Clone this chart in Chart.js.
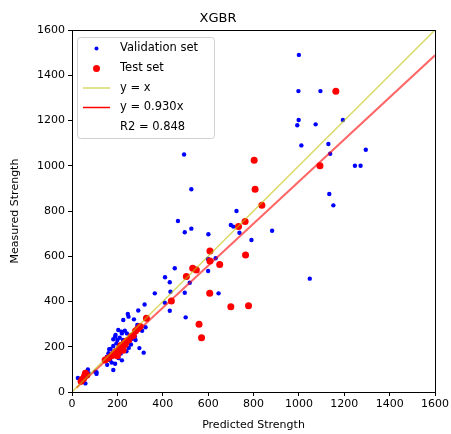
<!DOCTYPE html>
<html>
<head>
<meta charset="utf-8">
<script src="https://cdn.jsdelivr.net/npm/chart.js@4.4.0/dist/chart.umd.min.js"></script>
<style>
  html, body { margin: 0; padding: 0; background: #fff; }
  #wrap { width: 451px; height: 434px; }
</style>
</head>
<body>
<div id="wrap"><canvas id="chartXgbr" width="451" height="434"></canvas></div>
<script>

const validPred = [1000, 998, 1095, 999, 993, 1074, 1194, 1011, 1130, 1295, 1138, 1247, 1272, 1134, 1152,
    882, 791, 494, 526, 467, 497, 526, 601, 725, 700, 711, 738, 599, 633, 453, 600, 410, 431, 365, 434,
    497, 519, 646, 409, 431, 501, 1048, 320, 292, 273, 246, 249, 226, 288, 324, 309, 204, 218, 192, 242,
    233, 277, 280, 182, 196, 297, 182, 316, 182, 154, 161, 168, 190, 220, 103, 73, 26, 70, 108, 108, 59,
    164, 164, 200, 210, 230, 245, 260, 170, 185, 200, 215, 225, 250, 265, 205, 190, 220, 240, 175, 155];
const validMeas = [1490, 1330, 1330, 1202, 1179, 1183, 1202, 1090, 1096, 1071, 1053, 1000, 1000, 875, 825,
    713, 672, 1050, 896, 756, 706, 722, 697, 800, 738, 731, 704, 588, 591, 547, 535, 507, 485, 436, 443,
    439, 483, 436, 395, 359, 330, 501, 387, 360, 321, 345, 333, 318, 296, 286, 271, 274, 267, 252, 259,
    271, 245, 230, 233, 215, 194, 203, 174, 97, 156, 171, 141, 245, 259, 90, 83, 62, 100, 87, 80, 38,
    141, 189, 230, 240, 200, 220, 210, 190, 160, 185, 170, 230, 195, 235, 150, 125, 140, 180, 130, 120];

const testPred = [1163, 1093, 803, 807, 837, 763, 734, 608, 608, 651, 765, 532, 548, 504, 607, 438, 560,
    571, 700, 778, 328, 146, 195, 205, 210, 220, 230, 240, 250, 260, 270, 225, 200, 185, 215, 235, 280,
    175, 160, 290, 300, 59, 51, 45, 55, 65, 40];
const testMeas = [1329, 1000, 1024, 896, 825, 754, 731, 623, 579, 564, 605, 547, 539, 510, 436, 402, 299,
    240, 377, 381, 326, 141, 180, 175, 195, 200, 215, 225, 230, 245, 250, 185, 160, 170, 205, 210, 270,
    160, 150, 280, 290, 83, 60, 55, 70, 75, 48];

const eixoTicks = [0, 200, 400, 600, 800, 1000, 1200, 1400, 1600];
const slope = 0.930;
const r2 = 0.848;
const linhaIdentX = [0, 1600];
const linhaAjusteX = [20, 1600];

const fonte = 'DejaVu Sans';

function toPoints(xs, ys) {
    return xs.map((x, i) => ({ x: x, y: ys[i] }));
}

// Moldura completa (estilo matplotlib)
const molduraPlugin = {
    id: 'moldura',
    afterDraw(chart) {
        const { ctx, chartArea: a } = chart;
        ctx.save();
        ctx.strokeStyle = '#000';
        ctx.lineWidth = 1;
        ctx.strokeRect(Math.round(a.left) + 0.5, Math.round(a.top) + 0.5,
            Math.round(a.right - a.left), Math.round(a.bottom - a.top));
        ctx.restore();
    }
};

// Legenda dentro da área do gráfico
const legendaPlugin = {
    id: 'legendaInterna',
    afterDraw(chart) {
        const ctx = chart.ctx;
        const x0 = 77, y0 = 37, w = 137, h = 101;
        ctx.save();
        ctx.fillStyle = 'rgba(255,255,255,0.8)';
        ctx.strokeStyle = '#d0d0d0';
        ctx.lineWidth = 1;
        ctx.beginPath();
        ctx.roundRect(x0 + 0.5, y0 + 0.5, w, h, 3);
        ctx.fill();
        ctx.stroke();

        const linhas = [
            { tipo: 'ponto', cor: '#0000ff', r: 2, texto: 'Validation set' },
            { tipo: 'ponto', cor: '#ff0000', r: 3.5, texto: 'Test set' },
            { tipo: 'linha', cor: '#d9d966', texto: 'y = x' },
            { tipo: 'linha', cor: '#ff0000', texto: 'y = ' + slope.toFixed(3) + 'x' },
            { tipo: 'nada', texto: 'R2 = ' + r2.toFixed(3) }
        ];
        const ys = [48.5, 68.5, 88, 107.5, 127];
        ctx.font = '11.5px "' + fonte + '"';
        ctx.textBaseline = 'middle';
        linhas.forEach((l, i) => {
            const y = ys[i];
            if (l.tipo === 'ponto') {
                ctx.fillStyle = l.cor;
                ctx.beginPath();
                ctx.arc(96.5, y, l.r, 0, Math.PI * 2);
                ctx.fill();
            } else if (l.tipo === 'linha') {
                ctx.strokeStyle = l.cor;
                ctx.lineWidth = 1.5;
                ctx.beginPath();
                ctx.moveTo(83, y);
                ctx.lineTo(110, y);
                ctx.stroke();
            }
            ctx.fillStyle = '#000';
            ctx.fillText(l.texto, 120, y);
        });
        ctx.restore();
    }
};

const ctx = document.getElementById('chartXgbr').getContext('2d');

new Chart(ctx, {
    type: 'scatter',
    data: {
        datasets: [
            {
                label: 'y = x',
                data: toPoints(linhaIdentX, linhaIdentX),
                showLine: true,
                borderColor: 'rgba(191,191,0,0.6)',
                borderWidth: 1.5,
                pointRadius: 0,
                order: 0
            },
            {
                label: 'y = 0.930x',
                data: toPoints(linhaAjusteX, linhaAjusteX.map(x => x * slope)),
                showLine: true,
                borderColor: 'rgba(255,0,0,0.6)',
                borderWidth: 2,
                pointRadius: 0,
                order: 1
            },
            {
                label: 'Test set',
                data: toPoints(testPred, testMeas),
                backgroundColor: '#ff0000',
                borderWidth: 0,
                pointRadius: 3.5,
                order: 2
            },
            {
                label: 'Validation set',
                data: toPoints(validPred, validMeas),
                backgroundColor: '#0000ff',
                borderWidth: 0,
                pointRadius: 2.2,
                order: 3
            }
        ]
    },
    options: {
        responsive: false,
        animation: false,
        devicePixelRatio: 1,
        layout: { padding: { left: 0, right: 15, top: 0, bottom: 0 } },
        plugins: {
            legend: { display: false },
            tooltip: { enabled: false },
            title: {
                display: true,
                text: 'XGBR',
                color: '#000',
                font: { family: fonte, size: 13, weight: 'normal' },
                padding: { top: 10.5, bottom: 3.9 }
            }
        },
        scales: {
            x: {
                type: 'linear',
                min: 0,
                max: 1600,
                afterBuildTicks: s => { s.ticks = eixoTicks.map(v => ({ value: v })); },
                afterFit: s => { s.height = 42; },
                ticks: {
                    color: '#000',
                    font: { family: fonte, size: 11 },
                    padding: 2,
                    maxRotation: 0,
                    callback: v => String(v)
                },
                grid: { drawOnChartArea: false, tickLength: 4, color: '#000' },
                border: { color: '#000' },
                title: {
                    display: true,
                    text: 'Predicted Strength',
                    color: '#000',
                    font: { family: fonte, size: 11 },
                    padding: { top: 0, bottom: 2.4 }
                }
            },
            y: {
                type: 'linear',
                min: 0,
                max: 1600,
                afterBuildTicks: s => { s.ticks = eixoTicks.map(v => ({ value: v })); },
                afterFit: s => { s.width = 72; },
                ticks: {
                    color: '#000',
                    font: { family: fonte, size: 11 },
                    padding: 3,
                    callback: v => String(v)
                },
                grid: { drawOnChartArea: false, tickLength: 4, color: '#000' },
                border: { color: '#000' },
                title: {
                    display: true,
                    text: 'Measured Strength',
                    color: '#000',
                    font: { family: fonte, size: 11 },
                    padding: { top: 9, bottom: 0 }
                }
            }
        }
    },
    plugins: [molduraPlugin, legendaPlugin]
});
</script>
</body>
</html>
